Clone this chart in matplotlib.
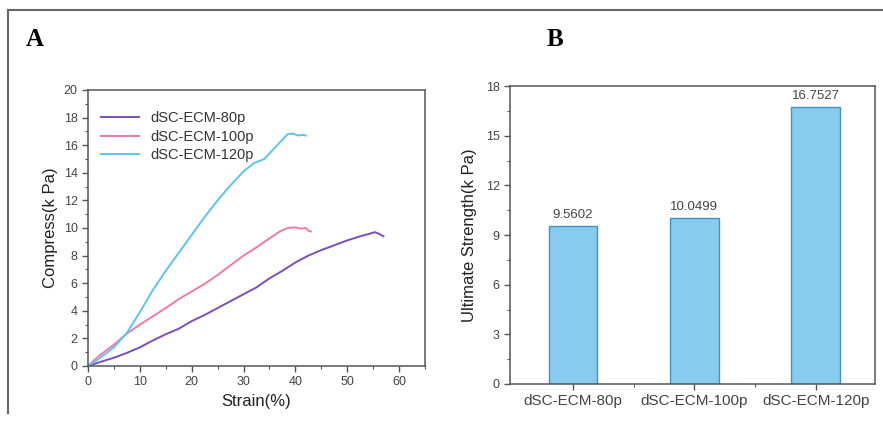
import numpy as np
import matplotlib.pyplot as plt
from matplotlib.lines import Line2D
from matplotlib.ticker import MultipleLocator

# Curbele efort-deformatie
strain_80 = [0, 2, 5, 7.5, 10, 12.5, 15, 17.5, 20, 22.5, 25, 27.5, 30, 32.5, 35, 37.5, 40, 42.5, 45,
             47.5, 50, 52.5, 54, 55.3, 56, 57]
stress_80 = [0, 0.25, 0.6, 0.95, 1.35, 1.85, 2.3, 2.7, 3.25, 3.7, 4.2, 4.7, 5.2, 5.7, 6.35, 6.9, 7.5,
             8.0, 8.4, 8.75, 9.1, 9.4, 9.55, 9.7, 9.6, 9.4]
strain_100 = [0, 2, 5, 7.5, 10, 12.5, 15, 17.5, 20, 22.5, 25, 27.5, 30, 32.5, 35, 37, 38.5, 40, 41,
              42, 42.5, 43]
stress_100 = [0, 0.7, 1.55, 2.35, 3.0, 3.6, 4.2, 4.85, 5.4, 5.95, 6.6, 7.3, 8.0, 8.6, 9.25, 9.75, 10.0,
              10.05, 9.95, 10.0, 9.8, 9.75]
strain_120 = [0, 2, 5, 7.5, 10, 12.5, 15, 17.5, 20, 22.5, 25, 27.5, 30, 32, 34, 35.5, 37, 38.5, 39.5,
              40.5, 41.5, 42]
stress_120 = [0, 0.5, 1.35, 2.4, 3.9, 5.5, 6.9, 8.2, 9.5, 10.8, 12.0, 13.1, 14.1, 14.7, 15.0, 15.6, 16.2,
              16.8, 16.85, 16.7, 16.75, 16.7]

# Rezistenta maxima
groups = ['dSC-ECM-80p', 'dSC-ECM-100p', 'dSC-ECM-120p']
ultimate = [9.5602, 10.0499, 16.7527]

plt.rcParams['font.family'] = 'Liberation Sans'
spine_c = '#555555'
text_c = '#444444'

fig = plt.figure(figsize=(8.83, 4.21), dpi=100)

# rama figurii
fig.add_artist(Line2D([8 / 883, 1], [1 - 10 / 421, 1 - 10 / 421], color='#666666', lw=1.5))
fig.add_artist(Line2D([8 / 883, 8 / 883], [1 - 10 / 421, 0.02], color='#666666', lw=1.5))

fig.text(35 / 883, 1 - 40 / 421, 'A', family='Liberation Serif', weight='bold', fontsize=18,
         ha='center', va='center')
fig.text(555 / 883, 1 - 40 / 421, 'B', family='Liberation Serif', weight='bold', fontsize=18,
         ha='center', va='center')

# Graficul A
ax1 = fig.add_axes([88 / 883, 55 / 421, 337 / 883, 276 / 421])
ax1.plot(strain_80, stress_80, color='#7a4fb8', lw=1.4, label='dSC-ECM-80p')
ax1.plot(strain_100, stress_100, color='#f07aa6', lw=1.4, label='dSC-ECM-100p')
ax1.plot(strain_120, stress_120, color='#5cc4ec', lw=1.4, label='dSC-ECM-120p')
ax1.set_xlim(0, 65)
ax1.set_ylim(0, 20)
ax1.xaxis.set_major_locator(MultipleLocator(10))
ax1.xaxis.set_minor_locator(MultipleLocator(5))
ax1.yaxis.set_major_locator(MultipleLocator(2))
ax1.yaxis.set_minor_locator(MultipleLocator(1))
ax1.set_xlabel('Strain(%)', fontsize=12, color='#222222', labelpad=4)
ax1.set_ylabel('Compress(k Pa)', fontsize=12, color='#222222', labelpad=4)
ax1.legend(loc='upper left', frameon=False, fontsize=10.5, handlelength=2.6, labelspacing=0.3,
           bbox_to_anchor=(0.0, 0.97), labelcolor='#333333')

# Graficul B
ax2 = fig.add_axes([510 / 883, 37 / 421, 365 / 883, 298 / 421])
x = np.arange(len(groups))
ax2.bar(x, ultimate, width=0.4, color='#87cbee', edgecolor='#4a8fbf', lw=1)
for xi, v in zip(x, ultimate):
    ax2.text(xi, v + 0.3, f'{v:.4f}', ha='center', va='bottom', fontsize=9.5, color=text_c)
ax2.set_xlim(-0.52, 2.49)
ax2.set_ylim(0, 18)
ax2.set_xticks(x)
ax2.set_xticklabels(groups, fontsize=11, color='#333333')
ax2.set_xticks([0.5, 1.5], minor=True)
ax2.yaxis.set_major_locator(MultipleLocator(3))
ax2.yaxis.set_minor_locator(MultipleLocator(1.5))
ax2.set_ylabel('Ultimate Strength(k Pa)', fontsize=12, color='#222222', labelpad=6)

for ax in (ax1, ax2):
    for s in ax.spines.values():
        s.set_color(spine_c)
        s.set_linewidth(1.1)
    ax.tick_params(which='major', length=4, width=1, color=spine_c, labelcolor=text_c)
    ax.tick_params(which='minor', length=2.5, width=0.8, color=spine_c)
    ax.tick_params(axis='y', labelsize=9)
ax1.tick_params(axis='x', labelsize=9)

fig.savefig('out.png', dpi=100)
